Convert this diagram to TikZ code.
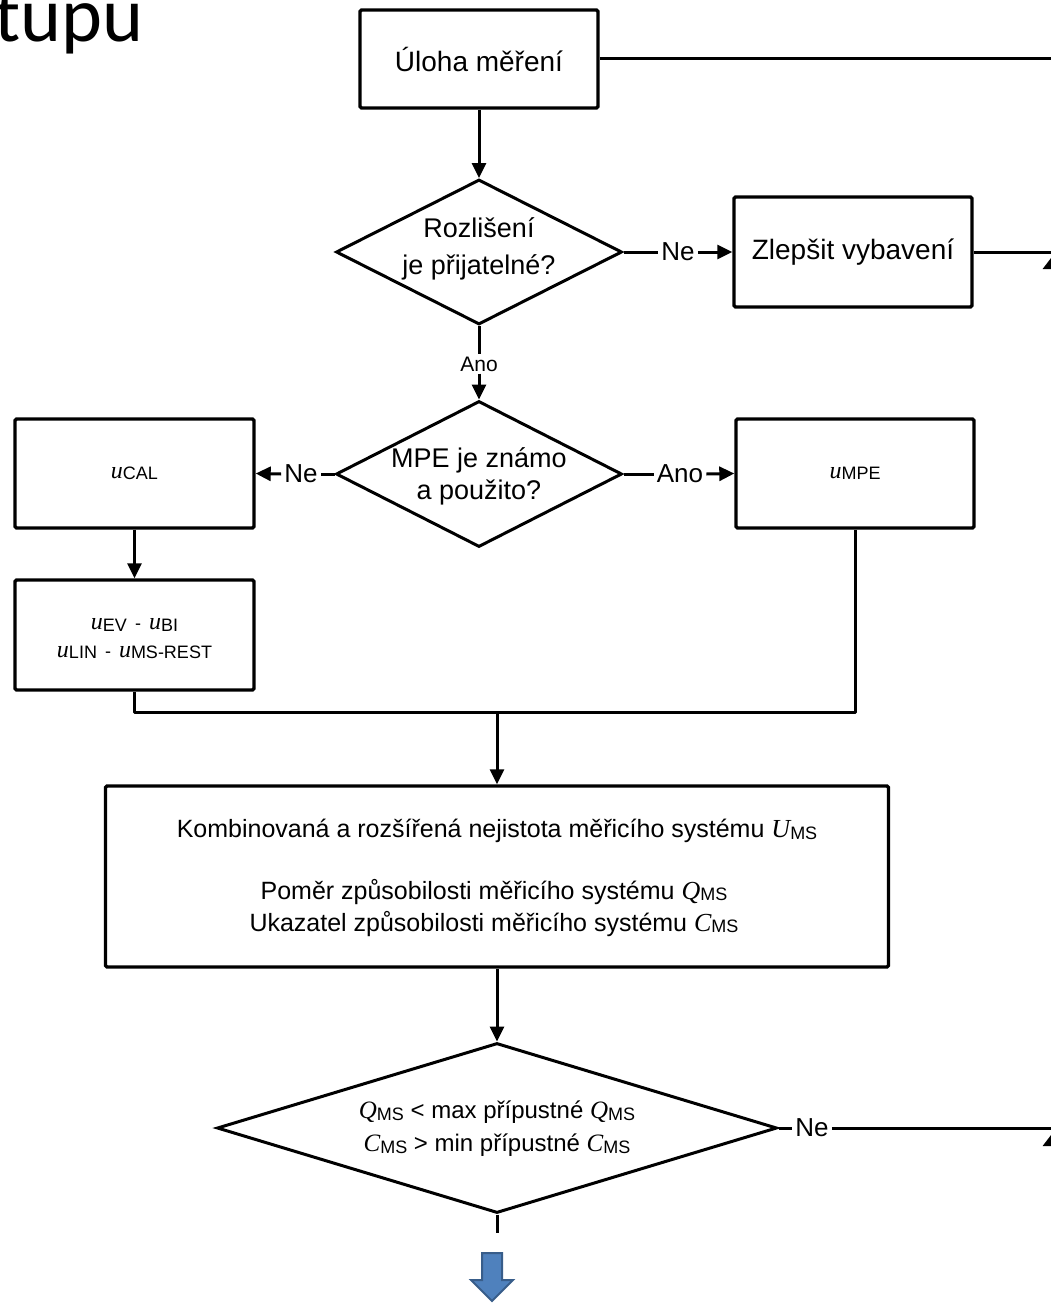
\documentclass[tikz,border=0pt]{standalone}
\usepackage{fontspec}
\setmainfont{Liberation Sans}
\newfontfamily\tmsfont{Liberation Serif}
\newfontfamily\calfont{Carlito}
\usetikzlibrary{shapes.geometric,arrows.meta}
\newcommand{\mv}[4]{{\tmsfont\itshape\fontsize{#3}{#3}\selectfont #1}\raisebox{-1.5pt}{\fontsize{#4}{#4}\selectfont #2}}
\newcommand{\dsh}{\fontsize{18}{18}\selectfont\ \,-\ \,}
\tikzset{
  box/.style={draw, line width=3.4pt, rounded corners=1.5pt, inner sep=0pt},
  dia/.style={draw, diamond, line width=3pt, inner sep=0pt},
  conn/.style={line width=3pt},
  arr/.style={conn, -{Triangle[length=15pt,width=14pt]}},
  lbl/.style={inner sep=3pt},
  txt/.style={inner sep=0pt, align=center},
}
\begin{document}
\begin{tikzpicture}[x=1pt,y=-1pt]
\fill[white] (0,0) rectangle (1050,1303);
\useasboundingbox (0,0) rectangle (1050,1303);

\node[anchor=base west, inner sep=0pt, font=\calfont\fontsize{78}{78}\selectfont] (tupu) at (-6,42) {tupu};

% nodes
\node[box, minimum width=238, minimum height=98] (uloha) at (479,59) {\fontsize{28}{32}\selectfont Úloha měření};
\node[dia, minimum width=286, minimum height=145] (d1) at (479,252) {};
\node[txt, font=\fontsize{27}{37}\selectfont] (t1) at (479,249) {Rozlišení\\je přijatelné?};
\node[lbl, font=\fontsize{26}{30}\selectfont] (ne1) at (678,252) {Ne};
\node[box, minimum width=238, minimum height=110] (zlep) at (853,252) {\fontsize{28}{32}\selectfont Zlepšit vybavení};

\node[lbl, inner sep=2pt, font=\fontsize{21}{24}\selectfont] (ano1) at (479,364) {Ano};
\node[dia, minimum width=286, minimum height=146] (d2) at (479,474) {};
\node[txt, font=\fontsize{27}{32}\selectfont] (t2) at (479,476) {MPE je známo\\a použito?};
\node[lbl, font=\fontsize{26}{30}\selectfont] (ne2) at (301,474) {Ne};
\node[lbl, font=\fontsize{26}{30}\selectfont] (ano2) at (680,474) {Ano};

\node[box, minimum width=239, minimum height=109] (ucal) at (134.5,473.5) {\mv{u}{CAL}{24}{18}};
\node[box, minimum width=239, minimum height=110] (uev) at (134.5,635) {};
\node[txt] (tev) at (134.5,639) {\mv{u}{EV}{24}{18}\dsh\mv{u}{BI}{24}{18}\\[14pt]\mv{u}{LIN}{24}{18}\dsh\mv{u}{MS-REST}{24}{18}};
\node[box, minimum width=238, minimum height=109] (umpe) at (855,473.5) {\mv{u}{MPE}{24}{18}};

\coordinate (j) at (497,712);
\node[box, minimum width=783, minimum height=181] (comb) at (497,876.5) {};
\node[txt, font=\fontsize{25}{32}\selectfont] (tc1) at (497,831) {Kombinovaná a rozšířená nejistota měřicího systému \mv{U}{MS}{26}{18}};
\node[txt, font=\fontsize{25}{32}\selectfont] (tc2) at (494,908) {Poměr způsobilosti měřicího systému \mv{Q}{MS}{26}{18}\\Ukazatel způsobilosti měřicího systému \mv{C}{MS}{26}{18}};

\node[dia, minimum width=560, minimum height=170] (d3) at (497,1128) {};
\node[txt, font=\fontsize{24}{33}\selectfont] (t3) at (497,1129) {\mv{Q}{MS}{25}{18} < max přípustné \mv{Q}{MS}{25}{18}\\\mv{C}{MS}{25}{18} > min přípustné \mv{C}{MS}{25}{18}};
\node[lbl, font=\fontsize{26}{30}\selectfont] (ne3) at (812,1128) {Ne};
\coordinate (d3end) at (497,1233);

% right return line (mostly outside the frame)
\coordinate (r0) at (1052.5,59);
\coordinate (r1) at (1052.5,252);
\coordinate (r3) at (1052.5,1128);
\draw[conn] (r3) -- (r0);
\draw[conn, -{Triangle[length=13pt,width=19pt]}] (1052.5,285) -- (1052.5,256);
\draw[conn, -{Triangle[length=13pt,width=19pt]}] (1052.5,1162) -- (1052.5,1133);

% connectors
\draw[arr] (uloha) -- (d1.north);
\draw[conn] (uloha.east) -- (r0);
\draw[conn] (d1.east) -- (ne1.west);
\draw[arr] (ne1.east) -- (zlep.west);
\draw[conn] (zlep.east) -- (r1);
\draw[conn] (d1.south) -- (ano1.north);
\draw[arr] (ano1.south) -- (d2.north);
\draw[conn] (d2.west) -- (ne2.east);
\draw[arr] (ne2.west) -- (ucal.east);
\draw[conn] (d2.east) -- (ano2.west);
\draw[arr] (ano2.east) -- (umpe.west);
\draw[arr] (ucal) -- (uev);
\draw[conn, line join=round] (uev.south) |- (umpe.south |- j) -- (umpe.south);
\draw[arr] (j) -- (comb.north);
\draw[arr] (comb) -- (d3.north);
\draw[conn] (d3.east) -- (ne3.west);
\draw[conn] (ne3.east) -- (r3);
\draw[conn] (d3.south) -- (d3end);

% blue block arrow
\draw[fill={rgb,255:red,79;green,129;blue,189}, draw={rgb,255:red,56;green,93;blue,138}, line width=2pt, line join=miter]
  (482,1253) -- (502,1253) -- (502,1280) -- (513,1280) -- (492,1301) -- (471,1280) -- (482,1280) -- cycle;
\end{tikzpicture}
\end{document}
